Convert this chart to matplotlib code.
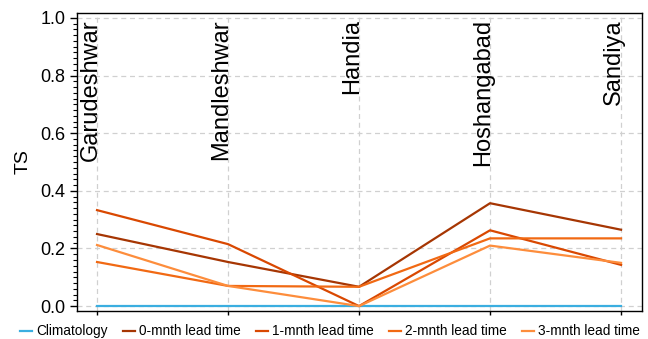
import matplotlib
matplotlib.use("Agg")
import matplotlib.pyplot as plt
from matplotlib.ticker import MultipleLocator

plt.rcParams['font.family'] = ['Liberation Sans', 'DejaVu Sans']

stations = ["Garudeshwar", "Mandleshwar", "Handia", "Hoshangabad", "Sandiya"]
climatology = [0.0, 0.0, 0.0, 0.0, 0.0]
lead0 = [0.25, 0.153, 0.067, 0.357, 0.265]
lead1 = [0.333, 0.215, 0.0, 0.263, 0.143]
lead2 = [0.153, 0.07, 0.067, 0.235, 0.235]
lead3 = [0.212, 0.07, 0.0, 0.21, 0.15]

series = [
    ("Climatology", climatology, "#3BAEE0"),
    ("0-mnth lead time", lead0, "#A63603"),
    ("1-mnth lead time", lead1, "#D94801"),
    ("2-mnth lead time", lead2, "#F16913"),
    ("3-mnth lead time", lead3, "#FD8D3C"),
]

fig = plt.figure(figsize=(6.48, 3.39), dpi=100)
ax = fig.add_axes([77/648, 1 - 311/339, (642-77)/648, (311-13)/339])

x = list(range(len(stations)))
for name, vals, col in series:
    ax.plot(x, vals, color=col, lw=1.6, label=name)

ax.set_xlim(-0.153, 4.16)
ax.set_ylim(-0.017, 1.017)
ax.set_xticks(x)
ax.set_xticklabels([])
ax.yaxis.set_minor_locator(MultipleLocator(0.02))
ax.set_yticks([0, 0.2, 0.4, 0.6, 0.8, 1.0])
ax.set_yticklabels(["0.0", "0.2", "0.4", "0.6", "0.8", "1.0"], fontsize=13)
ax.tick_params(axis='y', which='major', direction='out', length=5, width=1)
ax.tick_params(axis='y', which='minor', direction='out', length=3, width=0.8)
ax.tick_params(axis='x', which='major', direction='out', length=3, width=1)
ax.grid(True, which='major', linestyle=(0, (4, 3)), color='#d0d0d0', lw=0.9)
ax.set_axisbelow(True)
for s in ax.spines.values():
    s.set_linewidth(1.0)
ax.set_ylabel("TS", fontsize=14, labelpad=6)

for xi, name in zip(x, stations):
    ax.text(xi - 0.005, 0.995, name, rotation=90, ha='right', va='baseline',
            rotation_mode='anchor', fontsize=17)

ax.legend(loc='upper center', bbox_to_anchor=(0.448, -0.04), ncol=5, frameon=False,
          fontsize=9.8, handlelength=0.9, handletextpad=0.3, columnspacing=1.1,
          borderaxespad=0, borderpad=0.1)

fig.savefig("out.png", dpi=100)
